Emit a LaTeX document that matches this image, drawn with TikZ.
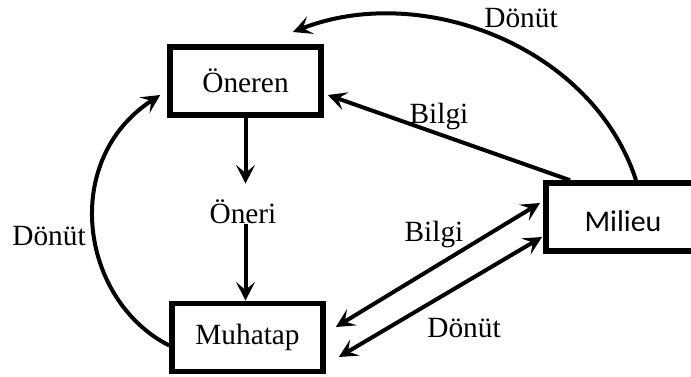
\documentclass[tikz,border=0pt]{standalone}
\usepackage{fontspec}
\setmainfont{Liberation Serif}
\newfontfamily\milfont{Carlito}
\usetikzlibrary{arrows.meta,calc}
\begin{document}
\begin{tikzpicture}[x=0.75pt,y=-0.75pt,
  box/.style={draw,line width=4.2pt,minimum width=151*0.75pt,minimum height=68*0.75pt,inner sep=0pt,font=\fontsize{22}{26}\selectfont},
  lbl/.style={inner sep=0pt,font=\fontsize{22}{26}\selectfont},
  arr/.style={line width=3pt,-{Stealth[length=14pt,width=14pt,inset=6pt]}},
  darr/.style={line width=3pt,{Stealth[length=14pt,width=14pt,inset=6pt]}-{Stealth[length=14pt,width=14pt,inset=6pt]}}]
\useasboundingbox (0,0) rectangle (691,376);
\node[box] (oneren) at (245.5,81) {Öneren};
\node[box] (muhatap) at (247.5,337.5) {Muhatap};
\node[box,minimum width=158*0.75pt,anchor=west] (milieu) at (543,217) {\hspace*{0pt}};
\node[inner sep=0pt,font=\milfont\fontsize{22.5}{26}\selectfont] (miltext) at (623,221) {Milieu};
\node[lbl] (oneri) at (243,212) {Öneri};
\draw[arr] (oneren.south) -- ($(oneren.south |- oneri.north)+(0,-16)$);
\draw[arr] (oneren.south |- oneri.south) -- (oneren.south |- muhatap.north);
% Bilgi Milieu -> Oneren
\draw[arr] ($(milieu.north west)+(27,0)$) -- ($(oneren.east)+(4,14)$);
\node[lbl] (bilgi1) at (439,116) {Bilgi};
% top Donut
\draw[arr] ($(milieu.north west)+(93,0)$) .. controls (592,45) and (420,-18) .. (293,32);
\node[lbl] (donut1) at (521,18) {Dönüt};
% left Donut
\draw[arr] ($(muhatap.west)+(0,8)$) .. controls (80,300) and (60,160) .. ($(oneren.west)+(-7,14)$);
\node[lbl] (donut2) at (49,236) {Dönüt};
% double arrows
\draw[darr] ($(muhatap.east)+(10,-10.5)$) -- ($(milieu.west)+(-3,-14)$);
\draw[darr] ($(muhatap.east)+(13,19.5)$) -- ($(milieu.west)+(-1,20)$);
\node[lbl] (bilgi2) at (434,234) {Bilgi};
\node[lbl] (donut3) at (464,328) {Dönüt};
\end{tikzpicture}
\end{document}
